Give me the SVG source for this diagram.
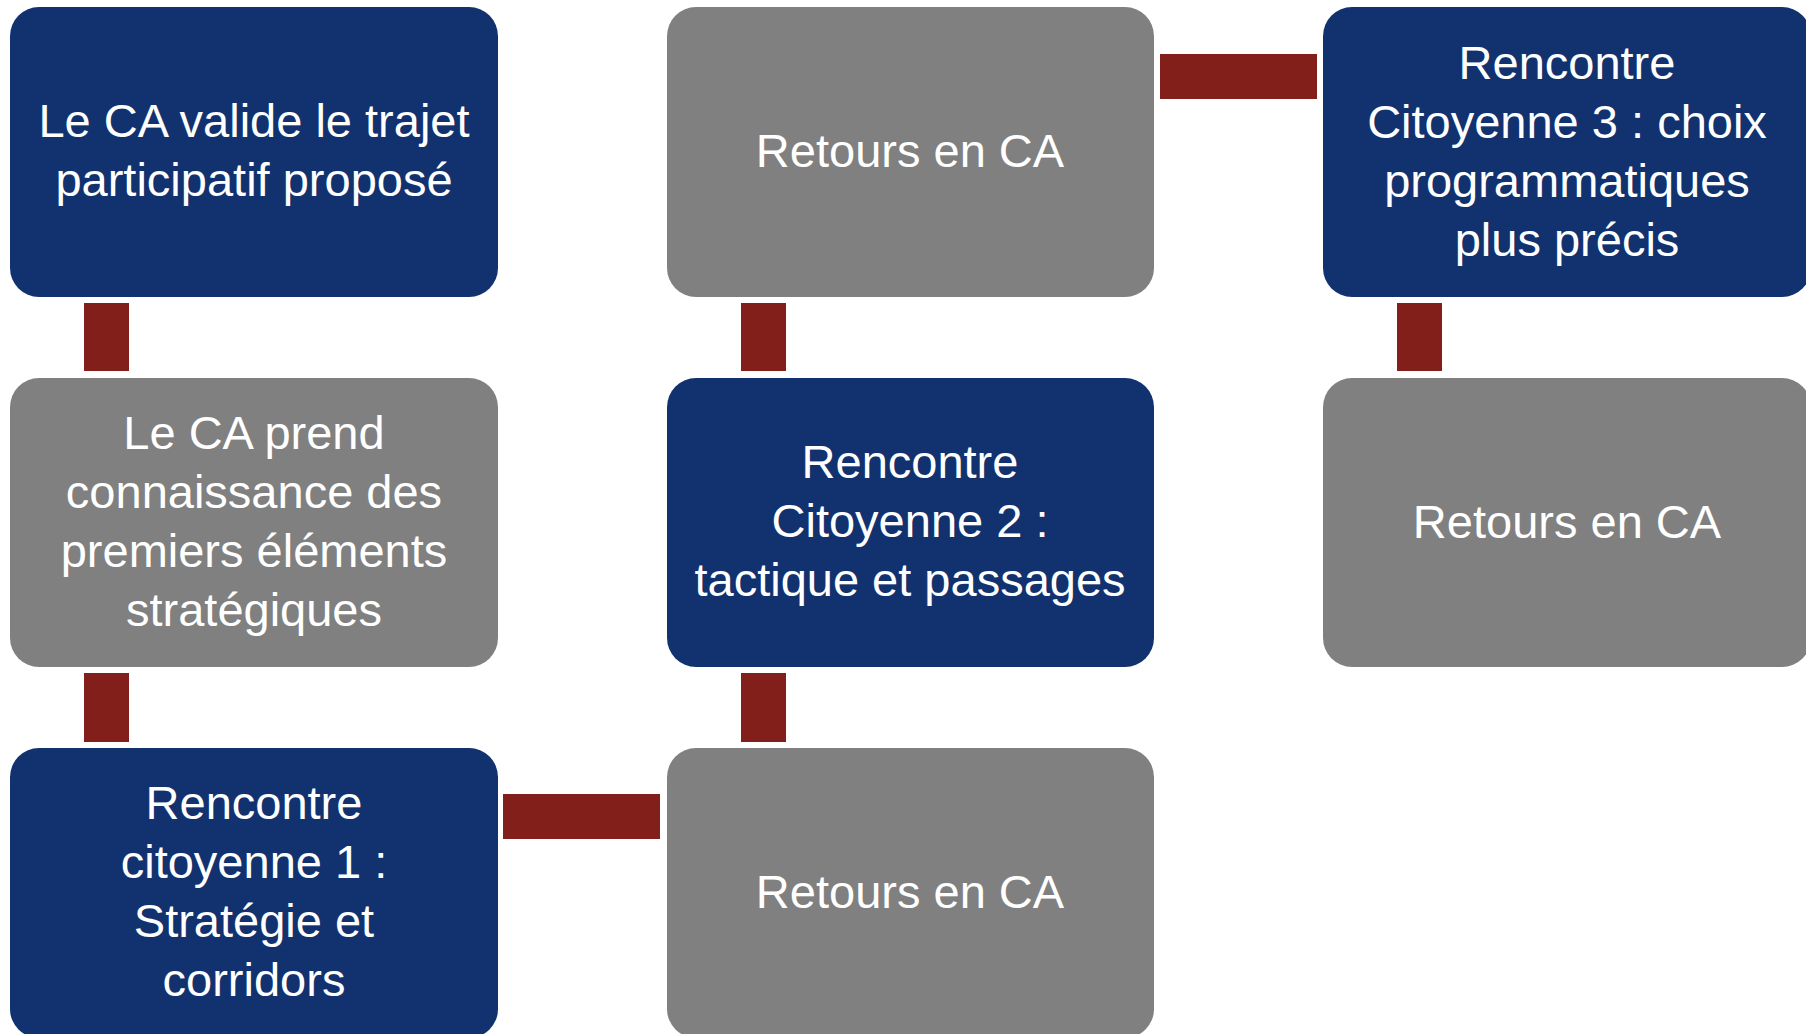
<svg xmlns="http://www.w3.org/2000/svg" width="1806" height="1034" viewBox="0 0 1806 1034">
<style>
.blue{fill:#11326F}
.gray{fill:#808080}
.con{fill:#831F1B}
text{font-family:"Liberation Sans",Arial,sans-serif;font-size:47px;fill:#FFFFFF;text-anchor:middle}
</style>
<rect width="1806" height="1034" fill="#FFFFFF"/>
<g id="connectors">
<rect class="con" x="84" y="303" width="45" height="68"/>
<rect class="con" x="84" y="673" width="45" height="69"/>
<rect class="con" x="503" y="794" width="157" height="45"/>
<rect class="con" x="741" y="673" width="45" height="69"/>
<rect class="con" x="741" y="303" width="45" height="68"/>
<rect class="con" x="1160" y="54" width="157" height="45"/>
<rect class="con" x="1397" y="303" width="45" height="68"/>
</g>
<g id="n1">
<rect class="blue" x="10" y="7" width="488" height="290" rx="29"/>
<text x="254" y="137">Le CA valide le trajet</text>
<text x="254" y="196">participatif proposé</text>
</g>
<g id="n2">
<rect class="gray" x="10" y="378" width="488" height="289" rx="29"/>
<text x="254" y="449">Le CA prend</text>
<text x="254" y="508">connaissance des</text>
<text x="254" y="567">premiers éléments</text>
<text x="254" y="626">stratégiques</text>
</g>
<g id="n3">
<rect class="blue" x="10" y="748" width="488" height="290" rx="29"/>
<text x="254" y="819">Rencontre</text>
<text x="254" y="878">citoyenne 1 :</text>
<text x="254" y="937">Stratégie et</text>
<text x="254" y="996">corridors</text>
</g>
<g id="n4">
<rect class="gray" x="667" y="748" width="487" height="290" rx="29"/>
<text x="910" y="908">Retours en CA</text>
</g>
<g id="n5">
<rect class="blue" x="667" y="378" width="487" height="289" rx="29"/>
<text x="910" y="478">Rencontre</text>
<text x="910" y="537">Citoyenne 2 :</text>
<text x="910" y="596">tactique et passages</text>
</g>
<g id="n6">
<rect class="gray" x="667" y="7" width="487" height="290" rx="29"/>
<text x="910" y="167">Retours en CA</text>
</g>
<g id="n7">
<rect class="blue" x="1323" y="7" width="488" height="290" rx="29"/>
<text x="1567" y="79">Rencontre</text>
<text x="1567" y="138">Citoyenne 3 : choix</text>
<text x="1567" y="197">programmatiques</text>
<text x="1567" y="256">plus précis</text>
</g>
<g id="n8">
<rect class="gray" x="1323" y="378" width="488" height="289" rx="29"/>
<text x="1567" y="538">Retours en CA</text>
</g>
</svg>
